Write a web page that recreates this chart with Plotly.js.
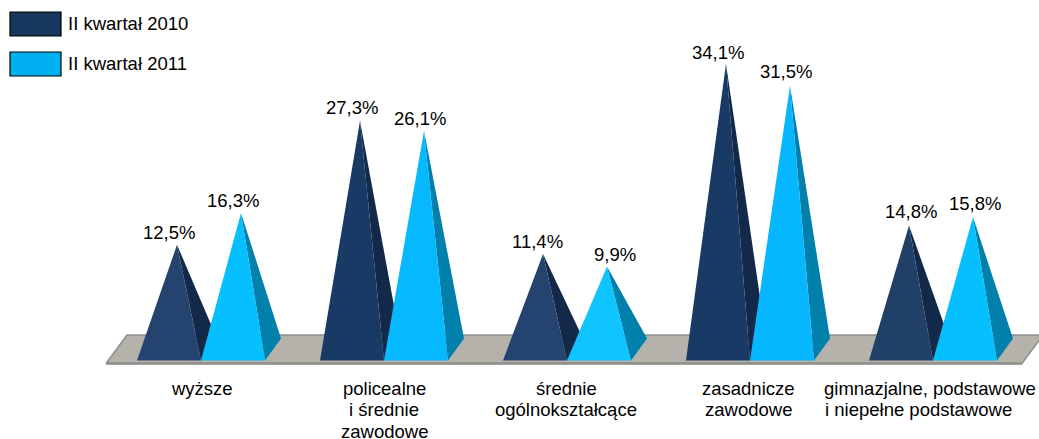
<!DOCTYPE html>
<html><head><meta charset="utf-8">
<script src="https://cdn.plot.ly/plotly-3.0.1.min.js"></script>
<style>html,body{margin:0;padding:0;background:#fff}</style></head>
<body><div id="chart" style="width:1039px;height:439px"></div>
<script>
// Data
const categories = [
  ["wyższe"],
  ["policealne","i średnie","zawodowe"],
  ["średnie","ogólnokształcące"],
  ["zasadnicze","zawodowe"],
  ["gimnazjalne, podstawowe","i niepełne podstawowe"]
];
const series2010Name = "II kwartał 2010";
const series2011Name = "II kwartał 2011";
const values2010 = [12.5, 27.3, 11.4, 34.1, 14.8];
const values2011 = [16.3, 26.1, 9.9, 31.5, 15.8];
const labels2010 = ["12,5%","27,3%","11,4%","34,1%","14,8%"];
const labels2011 = ["16,3%","26,1%","9,9%","31,5%","15,8%"];

// Styles
const front2010 = ["#24436F","#1A3A66","#24436F","#1A3A66","#214068"];
const front2011 = ["#06BFFF","#06B9FF","#10C4FF","#06B7FF","#06BFFF"];
const side2010 = "#12294A";
const side2011 = "#0080AB";
const FONT = "Liberation Sans, Arial, sans-serif";

// Scale set-up: pixels per data unit and zero position
const W = 1039, H = 439;
const pxX = 183, pxY = 8.38, zeroPxX = 201, zeroPxY = 349.5;
const xRange = [-zeroPxX/pxX, (W-zeroPxX)/pxX];
const yRange = [(zeroPxY-H)/pxY, zeroPxY/pxY];
const halfW = 32/pxX, depthX = 16/pxX, depthY = 22/pxY;

const traces = [];
// Floor
const fx = p => (p-zeroPxX)/pxX, fy = p => (zeroPxY-p)/pxY;
traces.push({x:[fx(106),fx(1022),fx(1043),fx(127),fx(106)],
  y:[fy(363.5),fy(363.5),fy(335),fy(335),fy(363.5)],
  mode:"lines",fill:"toself",fillcolor:"#B5B2AB",line:{color:"#8F8F8B",width:1.5},
  hoverinfo:"skip",showlegend:false});
traces.push({x:[fx(106),fx(1022)],y:[fy(363.5),fy(363.5)],mode:"lines",
  line:{color:"#8F8F8B",width:2.5},hoverinfo:"skip",showlegend:false});

function pyramid(c, v, front, side, name){
  const baseY = -depthY/2;
  const ax = c + depthX/2;
  traces.push({x:[ax,c+halfW,c+halfW+depthX,ax],y:[v,baseY,baseY+depthY,v],
    mode:"lines",fill:"toself",fillcolor:side,line:{width:0,color:side},
    name:name,hoverinfo:"skip",showlegend:false});
  traces.push({x:[c-halfW,c+halfW,ax,c-halfW],y:[baseY,baseY,v,baseY],
    mode:"lines",fill:"toself",fillcolor:front,line:{width:0,color:front},
    name:name,hoverinfo:"skip",showlegend:false});
}
categories.forEach((_,i)=>{
  pyramid(i-halfW, values2010[i], front2010[i], side2010, series2010Name);
  pyramid(i+halfW, values2011[i], front2011[i], side2011, series2011Name);
});

const annotations = [];
// Value labels
const labelLift = 12/pxY;
const shift2010 = [0,0,2,0,10];
const shift2011 = [0,4,16,4,10];
const rise2010 = [0,1,0,-1,2];
const rise2011 = [0,0,0,2,2];
const FS = 18.5;
categories.forEach((_,i)=>{
  annotations.push({x:i-halfW,y:values2010[i]+labelLift,xref:"x",yref:"y",text:labels2010[i],
    showarrow:false,xanchor:"center",yanchor:"middle",xshift:shift2010[i],yshift:rise2010[i],
    font:{family:FONT,size:FS,color:"#000"}});
  annotations.push({x:i+halfW,y:values2011[i]+labelLift,xref:"x",yref:"y",text:labels2011[i],
    showarrow:false,xanchor:"center",yanchor:"middle",xshift:shift2011[i],yshift:rise2011[i],
    font:{family:FONT,size:FS,color:"#000"}});
});

// Category labels
const catShift = [[1],[0,0,0],[-1,-1],[-2,-2],[-3,-15]];
categories.forEach((lines,i)=>{
  lines.forEach((t,j)=>{
    annotations.push({x:i,y:fy(388+j*21.7),xref:"x",yref:"y",text:t,showarrow:false,
      xanchor:"center",yanchor:"middle",xshift:catShift[i][j],
      font:{family:FONT,size:FS,color:"#000"}});
  });
});
// Legend
const legend = [[series2010Name,"#17375E",12,36],[series2011Name,"#00B0F0",52,76]];
const shapes = legend.map(l=>({type:"rect",xref:"paper",yref:"paper",
  x0:10/W,x1:61/W,y0:1-l[3]/H,y1:1-l[2]/H,fillcolor:l[1],line:{color:"#000",width:1.2}}));
legend.forEach(l=>annotations.push({xref:"paper",yref:"paper",x:66/W,y:1-(l[2]+l[3])/2/H,
  text:l[0],showarrow:false,xanchor:"left",yanchor:"middle",
  font:{family:FONT,size:FS,color:"#000"}}));

Plotly.newPlot("chart",traces,{
  width:W,height:H,margin:{l:0,r:0,t:0,b:0},paper_bgcolor:"#fff",plot_bgcolor:"#fff",
  showlegend:false,
  xaxis:{range:xRange,visible:false,fixedrange:true},
  yaxis:{range:yRange,visible:false,fixedrange:true},
  annotations:annotations,shapes:shapes
},{displayModeBar:false,staticPlot:true});
</script></body></html>
